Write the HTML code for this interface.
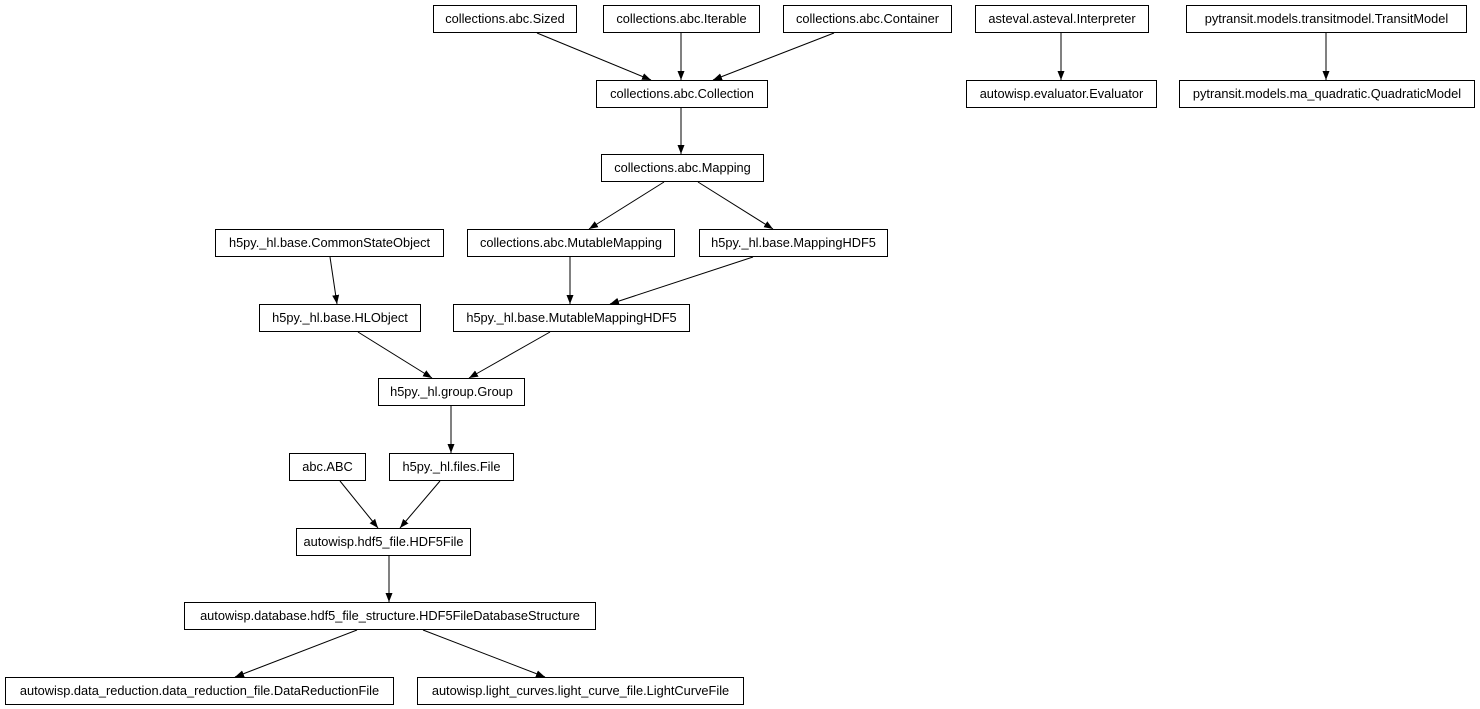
<!DOCTYPE html>
<html><head><style>body{margin:0;background:#fff}svg{display:block}text{font-family:"Liberation Sans",Arial,sans-serif;font-size:12.8px;fill:#000}</style></head>
<body>
<svg width="1480" height="709" viewBox="0 0 1480 709">
<defs><marker id="a" markerWidth="10" markerHeight="8" refX="9" refY="4" orient="auto" markerUnits="userSpaceOnUse"><path d="M0,0.5 L9,4 L0,7.5 z" fill="#000"/></marker></defs>
<g fill="#fff" stroke="#000" stroke-width="1">
<rect x="433.5" y="5.5" width="143" height="27"/>
<rect x="603.5" y="5.5" width="156" height="27"/>
<rect x="783.5" y="5.5" width="168" height="27"/>
<rect x="975.5" y="5.5" width="173" height="27"/>
<rect x="1186.5" y="5.5" width="280" height="27"/>
<rect x="596.5" y="80.5" width="171" height="27"/>
<rect x="966.5" y="80.5" width="190" height="27"/>
<rect x="1179.5" y="80.5" width="295" height="27"/>
<rect x="601.5" y="154.5" width="162" height="27"/>
<rect x="215.5" y="229.5" width="228" height="27"/>
<rect x="467.5" y="229.5" width="207" height="27"/>
<rect x="699.5" y="229.5" width="188" height="27"/>
<rect x="259.5" y="304.5" width="161" height="27"/>
<rect x="453.5" y="304.5" width="236" height="27"/>
<rect x="378.5" y="378.5" width="146" height="27"/>
<rect x="289.5" y="453.5" width="76" height="27"/>
<rect x="389.5" y="453.5" width="124" height="27"/>
<rect x="296.5" y="528.5" width="174" height="27"/>
<rect x="184.5" y="602.5" width="411" height="27"/>
<rect x="5.5" y="677.5" width="388" height="27"/>
<rect x="417.5" y="677.5" width="326" height="27"/>
</g>
<g stroke="#000" stroke-width="1" fill="none" marker-end="url(#a)">
<line x1="537" y1="33" x2="651" y2="80"/>
<line x1="681" y1="33" x2="681" y2="80"/>
<line x1="834" y1="33" x2="713" y2="80"/>
<line x1="1061" y1="33" x2="1061" y2="80"/>
<line x1="1326" y1="33" x2="1326" y2="80"/>
<line x1="681" y1="108" x2="681" y2="154"/>
<line x1="664" y1="182" x2="589" y2="229"/>
<line x1="698" y1="182" x2="773" y2="229"/>
<line x1="330" y1="257" x2="337" y2="304"/>
<line x1="570" y1="257" x2="570" y2="304"/>
<line x1="753" y1="257" x2="610" y2="304"/>
<line x1="358" y1="332" x2="432" y2="378"/>
<line x1="550" y1="332" x2="469" y2="378"/>
<line x1="451" y1="406" x2="451" y2="453"/>
<line x1="340" y1="481" x2="378" y2="528"/>
<line x1="440" y1="481" x2="400" y2="528"/>
<line x1="389" y1="556" x2="389" y2="602"/>
<line x1="357" y1="630" x2="235" y2="677"/>
<line x1="423" y1="630" x2="545" y2="677"/>
</g>
<g text-anchor="middle">
<text x="505" y="23">collections.abc.Sized</text>
<text x="681.5" y="23">collections.abc.Iterable</text>
<text x="867.5" y="23">collections.abc.Container</text>
<text x="1062" y="23">asteval.asteval.Interpreter</text>
<text x="1326.5" y="23">pytransit.models.transitmodel.TransitModel</text>
<text x="682" y="98">collections.abc.Collection</text>
<text x="1061.5" y="98">autowisp.evaluator.Evaluator</text>
<text x="1327" y="98">pytransit.models.ma_quadratic.QuadraticModel</text>
<text x="682.5" y="172">collections.abc.Mapping</text>
<text x="329.5" y="247">h5py._hl.base.CommonStateObject</text>
<text x="571" y="247">collections.abc.MutableMapping</text>
<text x="793.5" y="247">h5py._hl.base.MappingHDF5</text>
<text x="340" y="322">h5py._hl.base.HLObject</text>
<text x="571.5" y="322">h5py._hl.base.MutableMappingHDF5</text>
<text x="451.5" y="396">h5py._hl.group.Group</text>
<text x="327.5" y="471">abc.ABC</text>
<text x="451.5" y="471">h5py._hl.files.File</text>
<text x="383.5" y="546">autowisp.hdf5_file.HDF5File</text>
<text x="390" y="620">autowisp.database.hdf5_file_structure.HDF5FileDatabaseStructure</text>
<text x="199.5" y="695">autowisp.data_reduction.data_reduction_file.DataReductionFile</text>
<text x="580.5" y="695">autowisp.light_curves.light_curve_file.LightCurveFile</text>
</g>
</svg>
</body></html>
